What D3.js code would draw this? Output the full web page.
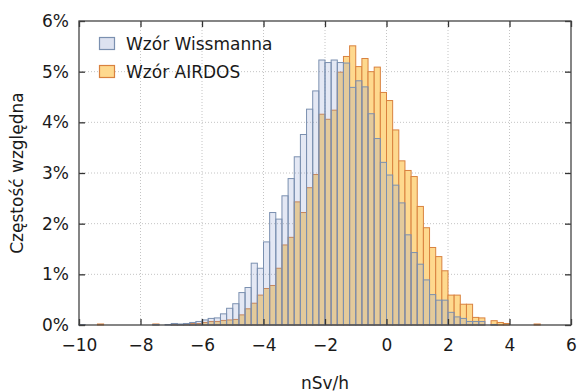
<!DOCTYPE html>
<html><head><meta charset="utf-8">
<script src="https://cdn.jsdelivr.net/npm/d3@7"></script>
<style>
body{margin:0;background:#fff}
text{font-family:"DejaVu Sans",Verdana,sans-serif;fill:#1a1a1a}
</style>
</head><body>
<svg id="chart" width="580" height="392"></svg>
<script>
// bin left edges (nSv/h), bin width 0.2
const binLeft = [-10.0,-9.8,-9.6,-9.4,-9.2,-9.0,-8.8,-8.6,-8.4,-8.2,-8.0,-7.8,-7.6,-7.4,-7.2,-7.0,-6.8,-6.6,-6.4,-6.2,
  -6.0,-5.8,-5.6,-5.4,-5.2,-5.0,-4.8,-4.6,-4.4,-4.2,-4.0,-3.8,-3.6,-3.4,-3.2,-3.0,-2.8,-2.6,-2.4,-2.2,
  -2.0,-1.8,-1.6,-1.4,-1.2,-1.0,-0.8,-0.6,-0.4,-0.2,0.0,0.2,0.4,0.6,0.8,1.0,1.2,1.4,1.6,1.8,
  2.0,2.2,2.4,2.6,2.8,3.0,3.2,3.4,3.6,3.8,4.0,4.2,4.4,4.6,4.8];
const binWidth = 0.2;
// relative frequency in %
const wissmanna = [0.01,0,0,0,0,0,0,0,0,0,0,0,0.01,0,0.01,0.03,0.02,0.03,0.05,0.07,
  0.10,0.13,0.14,0.22,0.33,0.42,0.64,0.74,1.22,1.12,1.64,2.22,2.09,2.55,2.89,3.32,3.76,4.26,4.62,5.23,
  5.18,5.23,5.18,5.17,4.69,4.82,4.70,4.17,3.68,3.21,2.96,2.76,2.41,1.78,1.43,1.20,0.89,0.60,0.49,0.49,
  0.25,0.16,0.13,0.07,0.07,0.07,0,0.01,0,0,0,0,0,0,0];
const airdos = [0,0,0,0.02,0,0,0,0,0,0,0,0,0.02,0,0,0.01,0.01,0.02,0.03,0.03,
  0.05,0.07,0.07,0.09,0.10,0.11,0.20,0.32,0.43,0.59,0.72,0.78,1.12,1.58,1.73,2.43,2.22,2.71,2.97,4.16,
  4.06,4.24,4.99,5.30,5.51,5.10,5.26,5.00,5.09,4.59,4.43,3.85,3.24,3.05,2.93,2.34,1.92,1.53,1.35,1.07,
  0.59,0.59,0.41,0.41,0.15,0.14,0,0.085,0.05,0.03,0,0,0,0,0.02];
const xTicks = [-10,-8,-6,-4,-2,0,2,4,6];
const yTicks = [0,1,2,3,4,5,6];
const seriesNames = ["Wzór Wissmanna","Wzór AIRDOS"];
const xTitle = "nSv/h";
const yTitle = "Częstość względna";

const svg = d3.select("#chart");
const m = {l:79, r:9, t:21, b:67};
const W = 580, H = 392;
const x = d3.scaleLinear().domain([-10,6]).range([m.l, W-m.r]);
const y = d3.scaleLinear().domain([0,6]).range([H-m.b, m.t]);

const blueFill = "rgba(130,150,205,0.22)", blueStroke = "#7b90b0";
const orFill = "#fed98e", orStroke = "#d9823f";

// grid
const g = svg.append("g");
g.selectAll(".gx").data(xTicks.slice(1,-1)).join("line")
  .attr("x1",d=>x(d)).attr("x2",d=>x(d)).attr("y1",y(6)).attr("y2",y(0))
  .attr("stroke","#c4c4c4").attr("stroke-dasharray","1,2");
g.selectAll(".gy").data(yTicks.slice(1,-1)).join("line")
  .attr("x1",x(-10)).attr("x2",x(6)).attr("y1",d=>y(d)).attr("y2",d=>y(d))
  .attr("stroke","#c4c4c4").attr("stroke-dasharray","1,2");

const dA = binLeft.map((b,i)=>({b, v:airdos[i]})).filter(d=>d.v>0);
const dW = binLeft.map((b,i)=>({b, v:wissmanna[i]})).filter(d=>d.v>0);

svg.append("g").selectAll("rect").data(dA).join("rect")
  .attr("x",d=>x(d.b)).attr("width",d=>x(d.b+binWidth)-x(d.b))
  .attr("y",d=>y(d.v)).attr("height",d=>y(0)-y(d.v))
  .attr("fill",orFill).attr("stroke",orStroke).attr("stroke-width",1);
svg.append("g").selectAll("rect").data(dW).join("rect")
  .attr("x",d=>x(d.b)).attr("width",d=>x(d.b+binWidth)-x(d.b))
  .attr("y",d=>y(d.v)).attr("height",d=>y(0)-y(d.v))
  .attr("fill",blueFill).attr("stroke",blueStroke).attr("stroke-width",1);

// axes
const fs = 17;
const axB = d3.axisBottom(x).tickValues(xTicks).tickSize(-6).tickPadding(14).tickFormat(d3.format("d"));
const axT = d3.axisTop(x).tickValues(xTicks).tickSize(-6).tickFormat("");
const axL = d3.axisLeft(y).tickValues(yTicks).tickSize(-6).tickPadding(10).tickFormat(d=>d+"%");
const axR = d3.axisRight(y).tickValues(yTicks).tickSize(-6).tickFormat("");
function style(sel){
  sel.select(".domain").remove();
  sel.selectAll("line").attr("stroke","#333").attr("stroke-width",1.3);
  sel.selectAll("text").style("font-size",fs+"px").attr("fill","#1a1a1a");
}
svg.append("g").attr("transform",`translate(0,${y(0)})`).call(axB).call(style);
svg.append("g").attr("transform",`translate(0,${y(6)})`).call(axT).call(style);
svg.append("g").attr("transform",`translate(${x(-10)},0)`).call(axL).call(style);
svg.append("g").attr("transform",`translate(${x(6)},0)`).call(axR).call(style);

svg.append("rect").attr("x",x(-10)).attr("y",y(6)).attr("width",x(6)-x(-10)).attr("height",y(0)-y(6))
  .attr("fill","none").attr("stroke","#444").attr("stroke-width",1.3);

// titles
svg.append("text").attr("x",(x(-10)+x(6))/2).attr("y",389).attr("text-anchor","middle")
  .style("font-size",fs+"px").text(xTitle);
svg.append("text").attr("transform",`translate(23,${(y(0)+y(6))/2}) rotate(-90)`).attr("text-anchor","middle")
  .style("font-size",fs+"px").text(yTitle);

// legend
const leg = [{n:seriesNames[0], f:"#dde2f0", s:blueStroke},{n:seriesNames[1], f:orFill, s:orStroke}];
leg.forEach((d,i)=>{
  const yy = 44 + i*28;
  svg.append("rect").attr("x",99.5).attr("y",yy-6.5).attr("width",15).attr("height",12)
    .attr("fill",d.f).attr("stroke",d.s).attr("stroke-width",1.2);
  svg.append("text").attr("x",126).attr("y",yy+6).style("font-size",fs+"px").text(d.n);
});
</script>
</body></html>
